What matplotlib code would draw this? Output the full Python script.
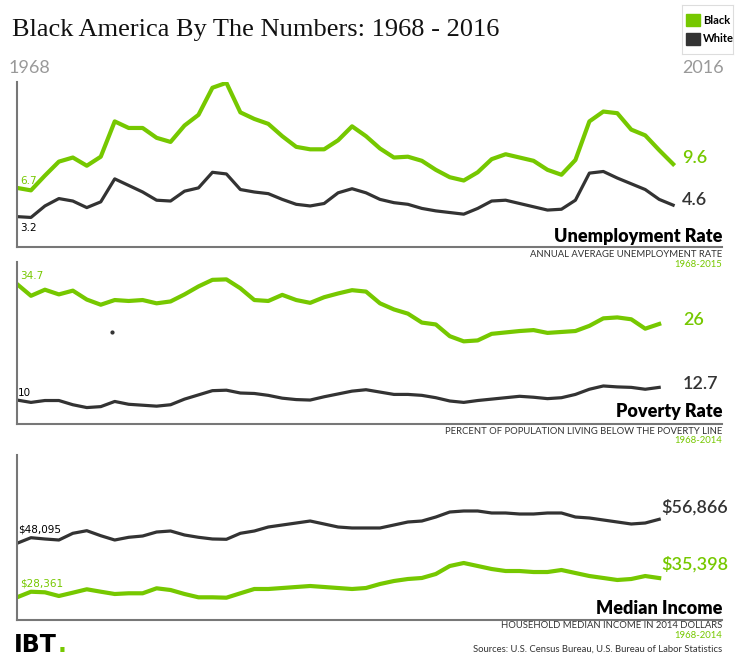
import matplotlib
matplotlib.use("Agg")
import matplotlib.pyplot as plt

GREEN = '#76c800'
DARK = '#333333'
GRAY = '#999999'

# Unemployment rate, annual average, 1968-2015
unemp_years = list(range(1968, 2016))
unemp_black = [6.7, 6.4, 8.2, 9.9, 10.4, 9.4, 10.5, 14.8, 14.0, 14.0, 12.8, 12.3,
               14.3, 15.6, 18.9, 19.5, 15.9, 15.1, 14.5, 13.0, 11.7, 11.4, 11.4, 12.5,
               14.2, 13.0, 11.5, 10.4, 10.5, 10.0, 8.9, 8.0, 7.6, 8.6, 10.2, 10.8,
               10.4, 10.0, 8.9, 8.3, 10.1, 14.8, 16.0, 15.8, 13.8, 13.1, 11.3, 9.6]
unemp_white = [3.2, 3.1, 4.5, 5.4, 5.1, 4.3, 5.0, 7.8, 7.0, 6.2, 5.2, 5.1,
               6.3, 6.7, 8.6, 8.4, 6.5, 6.2, 6.0, 5.3, 4.7, 4.5, 4.8, 6.1,
               6.6, 6.1, 5.3, 4.9, 4.7, 4.2, 3.9, 3.7, 3.5, 4.2, 5.1, 5.2,
               4.8, 4.4, 4.0, 4.1, 5.2, 8.5, 8.7, 7.9, 7.2, 6.5, 5.3, 4.6]

# Poverty rate, percent of population, 1968-2014
pov_years = list(range(1968, 2015))
pov_black = [34.7, 32.2, 33.5, 32.5, 33.3, 31.4, 30.3, 31.3, 31.1, 31.3, 30.6, 31.0,
             32.5, 34.2, 35.6, 35.7, 33.8, 31.3, 31.1, 32.4, 31.3, 30.7, 31.9, 32.7,
             33.4, 33.1, 30.6, 29.3, 28.4, 26.5, 26.1, 23.6, 22.5, 22.7, 24.1, 24.4,
             24.7, 24.9, 24.3, 24.5, 24.7, 25.8, 27.4, 27.6, 27.2, 25.2, 26.2]
pov_white = [10.0, 9.5, 9.9, 9.9, 9.0, 8.4, 8.6, 9.7, 9.1, 8.9, 8.7, 9.0,
             10.2, 11.1, 12.0, 12.1, 11.5, 11.4, 11.0, 10.4, 10.1, 10.0, 10.7, 11.3,
             11.9, 12.2, 11.7, 11.2, 11.2, 11.0, 10.5, 9.8, 9.5, 9.9, 10.2, 10.5,
             10.8, 10.6, 10.3, 10.5, 11.2, 12.3, 13.0, 12.8, 12.7, 12.3, 12.7]

# Household median income, 2014 dollars, 1968-2014
inc_years = list(range(1968, 2015))
inc_black = [28361, 30400, 30190, 28840, 30050, 31290, 30410, 29570, 29830, 29830,
             31650, 31030, 29570, 28360, 28360, 28220, 29830, 31400, 31400, 31760,
             32130, 32490, 32130, 31760, 31400, 31760, 33220, 34320, 35050, 35420,
             36880, 39800, 40900, 39800, 38700, 37970, 37970, 37600, 37600, 38340,
             37240, 36140, 35420, 34690, 35050, 36140, 35398]
inc_white = [48095, 50140, 49670, 49300, 51750, 52700, 50870, 49300, 50290, 50760,
             52220, 52590, 51130, 50290, 49670, 49560, 51750, 52590, 54050, 54780,
             55510, 56240, 55150, 54050, 53690, 53690, 53690, 54780, 55880, 56240,
             57700, 59530, 59900, 59900, 59170, 59170, 58800, 58800, 59170, 59170,
             57700, 57340, 56610, 55880, 55150, 55510, 56866]

W, H = 736, 660
fig = plt.figure(figsize=(W / 100, H / 100), dpi=100)


def fx(px):
    return px / W


def fy(py):
    return 1 - py / H


def panel(top, bottom, ylim):
    ax = fig.add_axes([fx(17), fy(bottom), fx(722) - fx(17), fy(top) - fy(bottom)])
    ax.set_xlim(1968, 2018.5)
    ax.set_ylim(*ylim)
    for s in ['top', 'right']:
        ax.spines[s].set_visible(False)
    for s in ['left', 'bottom']:
        ax.spines[s].set_color('#777777')
        ax.spines[s].set_linewidth(1.5)
    ax.set_xticks([])
    ax.set_yticks([])
    ax.patch.set_alpha(0)
    return ax


def txt(px, py, s, **kw):
    fig.text(fx(px), fy(py), s, **kw)


SANS = ['Lato', 'DejaVu Sans']
BIG = dict(family=SANS, fontsize=13, fontweight='semibold', va='center')
SUB = dict(family=SANS, fontsize=6.8, ha='right', va='center')
HEAD = dict(family=SANS, fontsize=13, fontweight='heavy', ha='right', va='center')
SMALL = dict(family='DejaVu Sans', fontsize=7.5, va='center')

# title and header
txt(12, 30, 'Black America By The Numbers: 1968 - 2016', family='Liberation Serif',
    fontsize=19, va='center', ha='left', color='#111111')
txt(9, 68, '1968', family=SANS, fontsize=13, color=GRAY, va='center', ha='left')
txt(724, 68, '2016', family=SANS, fontsize=13, color=GRAY, va='center', ha='right')

# legend
lg = fig.add_axes([fx(682), fy(54), fx(733) - fx(682), fy(5) - fy(54)])
lg.set_xticks([])
lg.set_yticks([])
for s in lg.spines.values():
    s.set_color('#dddddd')
lg.set_xlim(0, 51)
lg.set_ylim(49, 0)
lg.add_patch(plt.Rectangle((4, 9), 14, 12, color=GREEN))
lg.add_patch(plt.Rectangle((4, 28), 14, 12, color=DARK))
lg.text(21, 15, 'Black', family=SANS, fontweight='bold', fontsize=8, va='center')
lg.text(21, 34, 'White', family=SANS, fontweight='bold', fontsize=8, va='center')

# unemployment
ax1 = panel(82, 247, (-0.5, 19.6))
ax1.plot(unemp_years, unemp_white, color=DARK, lw=2.3)
ax1.plot(unemp_years, unemp_black, color=GREEN, lw=3)
txt(20, 181, '6.7', color=GREEN, **SMALL)
txt(20, 228, '3.2', color='black', **SMALL)
txt(682, 158, '9.6', color=GREEN, **BIG)
txt(682, 200, '4.6', color=DARK, **BIG)
txt(722, 236, 'Unemployment Rate', **HEAD)
txt(722, 254.5, 'ANNUAL AVERAGE UNEMPLOYMENT RATE', color=DARK, **SUB)
txt(722, 264.5, '1968-2015', color=GREEN, **SUB)

# poverty
ax2 = panel(262, 424, (4.9, 39.4))
ax2.plot(pov_years, pov_white, color=DARK, lw=2.3)
ax2.plot(pov_years, pov_black, color=GREEN, lw=3)
ax2.plot([1974.8], [24.5], 'o', color=DARK, ms=2)
txt(20, 276, '34.7', color=GREEN, **SMALL)
txt(18, 393, '10', color='black', **SMALL)
txt(683, 320, '26', color=GREEN, **BIG)
txt(683, 384, '12.7', color=DARK, **BIG)
txt(722, 412, 'Poverty Rate', **HEAD)
txt(722, 431, 'PERCENT OF POPULATION LIVING BELOW THE POVERTY LINE', color=DARK, **SUB)
txt(722, 440.5, '1968-2014', color=GREEN, **SUB)

# median income
ax3 = panel(455, 620, (20.07, 80.36))
ax3.plot(inc_years, [v / 1000 for v in inc_white], color=DARK, lw=2.3)
ax3.plot(inc_years, [v / 1000 for v in inc_black], color=GREEN, lw=3)
txt(18, 530, '$48,095', color='black', **SMALL)
txt(20, 584, '$28,361', color=GREEN, **SMALL)
txt(661, 507, '$56,866', color=DARK, **BIG)
txt(661, 564, '$35,398', color=GREEN, **BIG)
txt(722, 608.5, 'Median Income', **HEAD)
txt(722, 626, 'HOUSEHOLD MEDIAN INCOME IN 2014 DOLLARS', color=DARK, **SUB)
txt(722, 635.5, '1968-2014', color=GREEN, **SUB)
txt(722, 649, 'Sources: U.S. Census Bureau, U.S. Bureau of Labor Statistics', color=DARK, **SUB)

# logo
txt(14, 652, 'IBT', family='DejaVu Sans', fontsize=17, fontweight='bold', color='black', va='baseline')
txt(58, 652, '.', family='DejaVu Sans', fontsize=17, fontweight='bold', color=GREEN, va='baseline')

fig.savefig('out.png', dpi=100)
